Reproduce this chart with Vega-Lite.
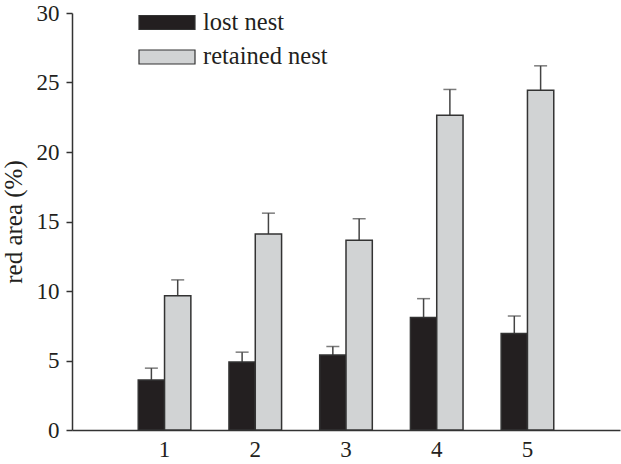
{
  "$schema": "https://vega.github.io/schema/vega-lite/v6.json",
  "autosize": "none",
  "width": 548,
  "height": 417,
  "padding": {"left": 72, "top": 13, "right": 1, "bottom": 34},
  "background": "white",
  "config": {
    "view": {"stroke": null},
    "font": "Liberation Serif"
  },
  "data": {
    "values": [
      {"week": "1", "nest": "lost nest", "value": 3.6, "err": 4.45},
      {"week": "1", "nest": "retained nest", "value": 9.65, "err": 10.8},
      {"week": "2", "nest": "lost nest", "value": 4.9, "err": 5.6},
      {"week": "2", "nest": "retained nest", "value": 14.1, "err": 15.6},
      {"week": "3", "nest": "lost nest", "value": 5.4, "err": 6.0},
      {"week": "3", "nest": "retained nest", "value": 13.65, "err": 15.2},
      {"week": "4", "nest": "lost nest", "value": 8.1, "err": 9.45},
      {"week": "4", "nest": "retained nest", "value": 22.65, "err": 24.5},
      {"week": "5", "nest": "lost nest", "value": 6.95, "err": 8.2},
      {"week": "5", "nest": "retained nest", "value": 24.45, "err": 26.2}
    ]
  },
  "encoding": {
    "x": {
      "field": "week", "type": "nominal",
      "scale": {"paddingOuter": 0.73, "paddingInner": 0.42},
      "axis": {
        "title": null, "labelAngle": 0, "ticks": false, "labelPadding": 8,
        "labelFontSize": 23, "labelColor": "#231f20",
        "domainColor": "#333333", "domainWidth": 1.5
      }
    },
    "xOffset": {"field": "nest", "type": "nominal", "scale": {"paddingInner": 0, "paddingOuter": 0}}
  },
  "layer": [
    {
      "mark": {"type": "rule", "color": "#444444", "strokeWidth": 1.5},
      "encoding": {
        "y": {"field": "value", "type": "quantitative"},
        "y2": {"field": "err"}
      }
    },
    {
      "mark": {"type": "tick", "orient": "horizontal", "color": "#444444", "thickness": 1.5, "size": 13},
      "encoding": {
        "y": {"field": "err", "type": "quantitative"}
      }
    },
    {
      "mark": {"type": "bar", "stroke": "#333333", "strokeWidth": 1.5},
      "encoding": {
        "y": {
          "field": "value", "type": "quantitative",
          "scale": {"domain": [0, 30], "nice": false},
          "axis": {
            "title": "red area (%)", "titleFontSize": 25, "titleFontWeight": "normal",
            "titleColor": "#231f20", "titlePadding": 10,
            "values": [0, 5, 10, 15, 20, 25, 30], "grid": false,
            "labelFontSize": 23, "labelColor": "#231f20", "labelPadding": 7,
            "tickSize": 6, "tickColor": "#333333", "tickWidth": 1.5,
            "domainColor": "#333333", "domainWidth": 1.5
          }
        },
        "color": {
          "field": "nest", "type": "nominal",
          "scale": {"domain": ["lost nest", "retained nest"], "range": ["#231f20", "#d1d3d4"]},
          "legend": {
            "title": null, "orient": "none", "legendX": 80, "legendY": -5.5,
            "symbolType": "M-2,-0.5H2V0.5H-2Z", "symbolSize": 784,
            "symbolStrokeColor": "#333333", "symbolStrokeWidth": 1.2,
            "labelFontSize": 24.5, "labelColor": "#231f20", "labelOffset": 21,
            "rowPadding": 7.5, "symbolOpacity": 1
          }
        }
      }
    }
  ]
}
